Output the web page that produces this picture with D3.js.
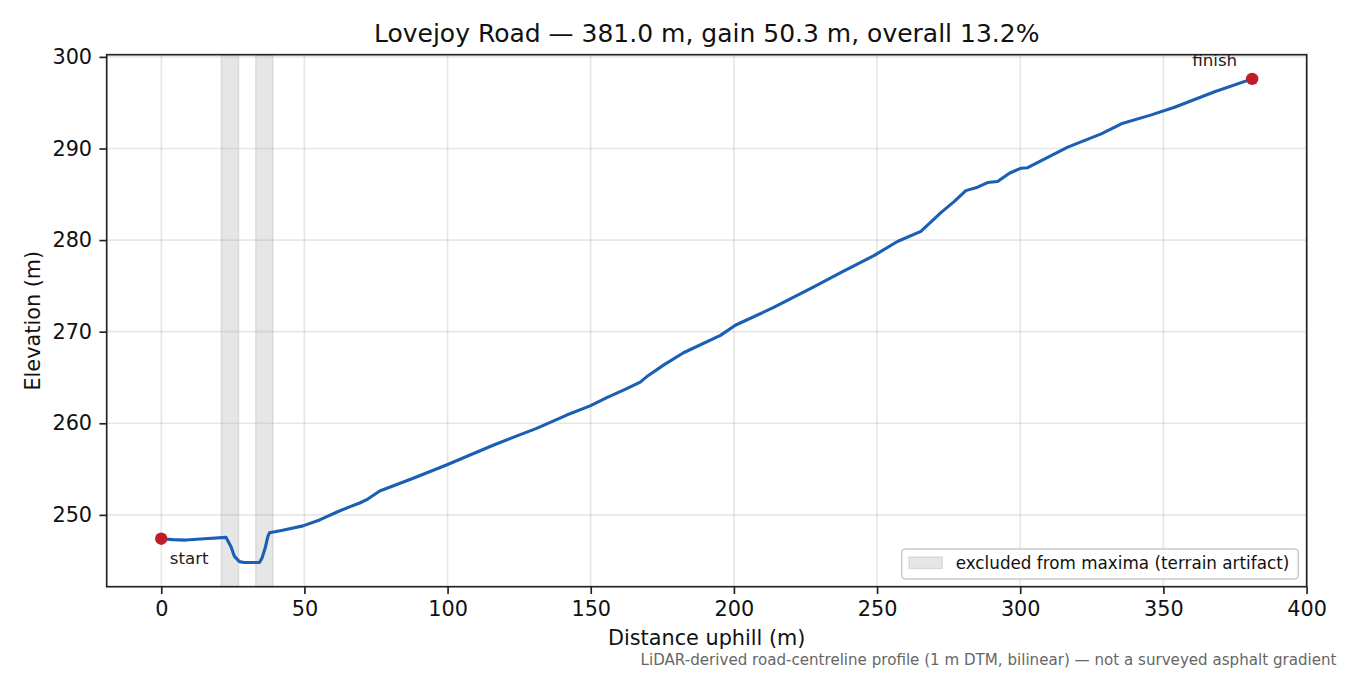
<!DOCTYPE html>
<html>
<head>
<meta charset="utf-8">
<script src="https://cdn.jsdelivr.net/npm/d3@7"></script>
<style>
	body { margin: 0; background: #fff; }
	svg { display: block; font-family: "DejaVu Sans", sans-serif; }
</style>
</head>
<body>
<div class="container"></div>
<script>
// profile: distance uphill (m) and elevation (m)
var distances = [0, 4, 8.6, 15, 22.6, 24.4, 25.5, 27.3, 29, 34.3, 35.2, 36.4, 37.2, 37.8,
	42, 49.5, 55.3, 62, 66, 69.3, 72, 76.3, 88, 99.6, 115.9, 124, 131.1, 141.6, 149.8,
	155.6, 162, 167.3, 170, 175.4, 182.4, 195.3, 200.5, 213.9, 227.9, 237.3, 248.9, 257.1,
	265.3, 272.3, 276.9, 281, 285.1, 288.6, 292.1, 296.2, 300.3, 302.6, 316.6, 328.3,
	335.3, 345.8, 353.9, 367.9, 381];
var elevations = [247.4, 247.3, 247.25, 247.4, 247.55, 246.5, 245.5, 244.9, 244.8, 244.8,
	245.3, 246.5, 247.6, 248.05, 248.3, 248.8, 249.45, 250.4, 250.9, 251.3, 251.7, 252.6,
	254.0, 255.45, 257.6, 258.6, 259.45, 260.9, 261.9, 262.8, 263.7, 264.5, 265.2, 266.35,
	267.7, 269.6, 270.7, 272.65, 274.9, 276.45, 278.3, 279.85, 280.95, 283.0, 284.2,
	285.4, 285.78, 286.28, 286.39, 287.3, 287.85, 287.9, 290.15, 291.6, 292.7, 293.67,
	294.5, 296.2, 297.6];

// stretches excluded from maxima (terrain artifact)
var excluded = [[21, 27], [33, 39]];

var xTicks = [0, 50, 100, 150, 200, 250, 300, 350, 400];
var yTicks = [250, 260, 270, 280, 290, 300];

var titleText = "Lovejoy Road \u2014 381.0 m, gain 50.3 m, overall 13.2%";
var xLabel = "Distance uphill (m)";
var yLabel = "Elevation (m)";
var legendLabel = "excluded from maxima (terrain artifact)";
var footerText = "LiDAR-derived road-centreline profile (1 m DTM, bilinear) \u2014 not a surveyed asphalt gradient";

var lineColor = "#1a5fb4";
var dotColor = "#c01c28";

var profileChart = function (width, height) {

	var margin = {top: 54.7, right: 43.3, bottom: 88.3, left: 106.7};
	var w = width - margin.left - margin.right;
	var h = height - margin.top - margin.bottom;

	// matplotlib-style 5% margin around the data
	function pad (ext) {
		var p = (ext[1] - ext[0]) * 0.05;
		return [ext[0] - p, ext[1] + p];
	}

	function init () {
		var data = distances.map(function (d, i) {
			return {x: d, y: elevations[i]};
		});

		var svg = d3.select('.container').append("svg")
			.attr("width", width)
			.attr("height", height);

		var x = d3.scaleLinear()
			.domain(pad(d3.extent(distances)))
			.range([0, w]);
		var y = d3.scaleLinear()
			.domain(pad(d3.extent(elevations)))
			.range([h, 0]);

		var g = svg.append("g")
			.attr("transform", "translate(" + margin.left + "," + margin.top + ")");

		// shaded artifact bands
		g.selectAll(".band")
			.data(excluded)
			.enter()
			.append("rect")
				.attr("class", "band")
				.attr("x", function (d) { return x(d[0]); })
				.attr("width", function (d) { return x(d[1]) - x(d[0]); })
				.attr("y", 0)
				.attr("height", h)
				.style("fill", "#808080")
				.style("fill-opacity", 0.2)
				.style("stroke", "#808080")
				.style("stroke-opacity", 0.2)
				.style("stroke-width", 1.5);

		// grid
		g.selectAll(".vgrid")
			.data(xTicks)
			.enter()
			.append("line")
				.attr("x1", function (d) { return x(d); })
				.attr("x2", function (d) { return x(d); })
				.attr("y1", 0)
				.attr("y2", h)
				.style("stroke", "#b0b0b0")
				.style("stroke-opacity", 0.3)
				.style("stroke-width", 1.67);
		g.selectAll(".hgrid")
			.data(yTicks)
			.enter()
			.append("line")
				.attr("y1", function (d) { return y(d); })
				.attr("y2", function (d) { return y(d); })
				.attr("x1", 0)
				.attr("x2", w)
				.style("stroke", "#b0b0b0")
				.style("stroke-opacity", 0.3)
				.style("stroke-width", 1.67);

		// the profile
		g.append("path")
			.datum(data)
			.attr("d", d3.line()
				.x(function (d) { return x(d.x); })
				.y(function (d) { return y(d.y); }))
			.style("fill", "none")
			.style("stroke", lineColor)
			.style("stroke-width", 3.1)
			.style("stroke-linejoin", "round")
			.style("stroke-linecap", "round");

		// start / finish markers
		var ends = [
			{p: data[0], label: "start", dx: 8.5, dy: 25, anchor: "start"},
			{p: data[data.length - 1], label: "finish", dx: -15, dy: -13, anchor: "end"}
		];
		g.selectAll(".end")
			.data(ends)
			.enter()
			.append("circle")
				.attr("cx", function (d) { return x(d.p.x); })
				.attr("cy", function (d) { return y(d.p.y); })
				.attr("r", 6.2)
				.style("fill", dotColor);
		g.selectAll(".endlabel")
			.data(ends)
			.enter()
			.append("text")
				.attr("x", function (d) { return x(d.p.x) + d.dx; })
				.attr("y", function (d) { return y(d.p.y) + d.dy; })
				.attr("text-anchor", function (d) { return d.anchor; })
				.style("font-size", "16.7px")
				.style("fill", "#222")
				.text(function (d) { return d.label; });

		// axes
		var xAxis = g.append("g")
			.attr("transform", "translate(0," + h + ")")
			.call(d3.axisBottom(x).tickValues(xTicks).tickSize(7.3).tickPadding(7.3));
		var yAxis = g.append("g")
			.call(d3.axisLeft(y).tickValues(yTicks).tickSize(7.3).tickPadding(7.3));
		[xAxis, yAxis].forEach(function (a) {
			a.select(".domain").remove();
			a.selectAll("line").style("stroke", "#222").style("stroke-width", 1.67);
			a.selectAll("text")
				.style("font-family", "DejaVu Sans")
				.style("font-size", "20.8px")
				.style("fill", "#111");
		});

		// frame
		g.append("rect")
			.attr("width", w)
			.attr("height", h)
			.style("fill", "none")
			.style("stroke", "#222")
			.style("stroke-width", 1.67);

		// legend
		var lg = g.append("g")
			.attr("transform", "translate(" + (w - 405) + "," + (h - 37.7) + ")");
		lg.append("rect")
			.attr("width", 396.6)
			.attr("height", 30)
			.attr("rx", 4)
			.style("fill", "#fff")
			.style("fill-opacity", 0.8)
			.style("stroke", "#cccccc")
			.style("stroke-width", 1.67);
		lg.append("rect")
			.attr("x", 7.3)
			.attr("y", 8)
			.attr("width", 33.3)
			.attr("height", 11.6)
			.style("fill", "#808080")
			.style("fill-opacity", 0.2)
			.style("stroke", "#808080")
			.style("stroke-opacity", 0.2)
			.style("stroke-width", 1.5);
		lg.append("text")
			.attr("x", 54)
			.attr("y", 19.5)
			.style("font-size", "16.8px")
			.style("fill", "#111")
			.text(legendLabel);

		// titles
		svg.append("text")
			.attr("x", margin.left + w / 2)
			.attr("y", 42.2)
			.attr("text-anchor", "middle")
			.style("font-size", "25px")
			.style("fill", "#111")
			.text(titleText);
		svg.append("text")
			.attr("x", margin.left + w / 2)
			.attr("y", 645)
			.attr("text-anchor", "middle")
			.style("font-size", "20.8px")
			.style("fill", "#111")
			.text(xLabel);
		svg.append("text")
			.attr("transform", "translate(40," + (margin.top + h / 2) + ") rotate(-90)")
			.attr("text-anchor", "middle")
			.style("font-size", "20.8px")
			.style("fill", "#111")
			.text(yLabel);
		svg.append("text")
			.attr("x", 1336.5)
			.attr("y", 665)
			.attr("text-anchor", "end")
			.style("font-size", "15.1px")
			.style("fill", "#666")
			.text(footerText);
	}

	return Object.freeze({init: init});
};

var chart = profileChart(1350, 675);
chart.init();
</script>
</body>
</html>
